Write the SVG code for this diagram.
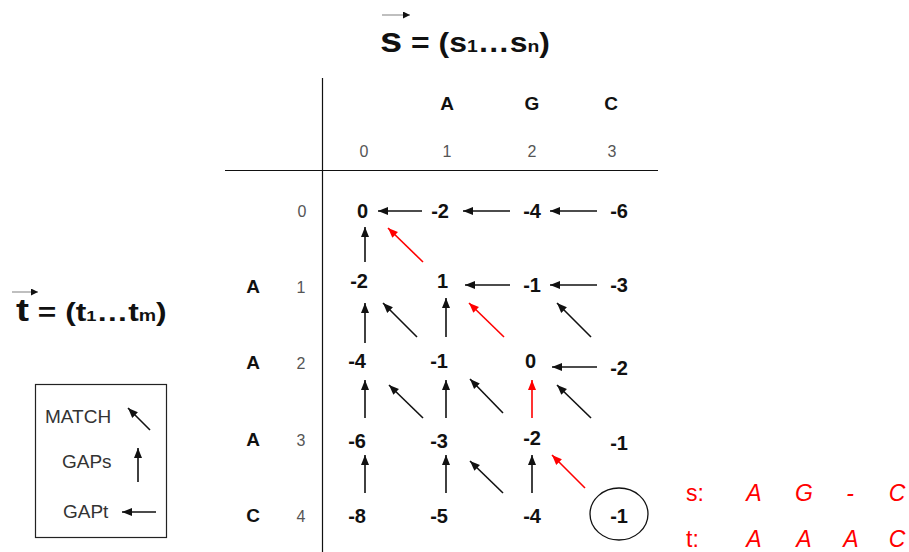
<svg xmlns="http://www.w3.org/2000/svg" width="909" height="552" viewBox="0 0 909 552">
<defs>
<style>
text{font-family:"Liberation Sans",Arial,sans-serif;}
.v{font-size:20px;font-weight:bold;fill:#111;text-anchor:end;}
.h{font-size:19px;font-weight:bold;fill:#111;text-anchor:middle;}
.i{font-size:16px;fill:#555;text-anchor:middle;}
.lg{font-size:19px;fill:#333;}
.al{font-size:23px;fill:#ff0000;}
.ai{font-size:23px;fill:#ff0000;font-style:italic;text-anchor:middle;}
.k{stroke:#111;stroke-width:1.6;fill:none;marker-end:url(#ak);}
.r{stroke:#ff0000;stroke-width:1.6;fill:none;marker-end:url(#ar);}
.tb{font-weight:bold;fill:#111;}
</style>
<marker id="ak" markerUnits="userSpaceOnUse" markerWidth="11" markerHeight="9" refX="10" refY="4.5" orient="auto"><path d="M0,0.5 L10,4.5 L0,8.5 z" fill="#111"/></marker>
<marker id="ar" markerUnits="userSpaceOnUse" markerWidth="11" markerHeight="9" refX="10" refY="4.5" orient="auto"><path d="M0,0.5 L10,4.5 L0,8.5 z" fill="#ff0000"/></marker>
<marker id="as" markerUnits="userSpaceOnUse" markerWidth="8" markerHeight="8" refX="7" refY="3.5" orient="auto"><path d="M0,0 L7,3.5 L0,7 z" fill="#111"/></marker>
</defs>
<rect width="909" height="552" fill="#fff"/>

<g id="title-s">
<line x1="382" y1="15" x2="410" y2="15" stroke="#aaa" stroke-width="1.5" marker-end="url(#as)"/>
<text class="tb" transform="translate(380,52) scale(1.14,1)" x="0" y="0"><tspan font-size="35">s</tspan><tspan font-size="28"> = (s</tspan><tspan font-size="17">1</tspan><tspan font-size="28">…s</tspan><tspan font-size="17">n</tspan><tspan font-size="28">)</tspan></text>
</g>

<g id="title-t">
<line x1="12" y1="292" x2="38" y2="292" stroke="#aaa" stroke-width="1.5" marker-end="url(#as)"/>
<text class="tb" transform="translate(16,321) scale(1.22,1)" x="0" y="0"><tspan font-size="32">t</tspan><tspan font-size="26"> = (t</tspan><tspan font-size="15">1</tspan><tspan font-size="26">…t</tspan><tspan font-size="16">m</tspan><tspan font-size="26">)</tspan></text>
</g>

<g id="grid">
<line x1="322.5" y1="78" x2="322.5" y2="552" stroke="#111" stroke-width="1.2"/>
<line x1="225" y1="170.5" x2="658" y2="170.5" stroke="#111" stroke-width="1.2"/>
</g>

<g id="headers">
<text class="h" x="447" y="110">A</text>
<text class="h" x="532" y="110">G</text>
<text class="h" x="611" y="110">C</text>
<text class="i" x="364" y="157">0</text>
<text class="i" x="447" y="157">1</text>
<text class="i" x="532" y="157">2</text>
<text class="i" x="612" y="157">3</text>
<text class="i" x="302" y="217">0</text>
<text class="h" x="253" y="293">A</text>
<text class="i" x="301" y="293">1</text>
<text class="h" x="253" y="369">A</text>
<text class="i" x="301" y="369">2</text>
<text class="h" x="253" y="446">A</text>
<text class="i" x="301" y="446">3</text>
<text class="h" x="253" y="522">C</text>
<text class="i" x="301" y="522">4</text>
</g>

<g id="cells">
<text class="v" x="368" y="218">0</text>
<text class="v" x="449" y="218">-2</text>
<text class="v" x="541" y="218">-4</text>
<text class="v" x="628" y="218">-6</text>
<text class="v" x="368" y="288">-2</text>
<text class="v" x="448" y="288">1</text>
<text class="v" x="541" y="292">-1</text>
<text class="v" x="628" y="292">-3</text>
<text class="v" x="366" y="368">-4</text>
<text class="v" x="448" y="368">-1</text>
<text class="v" x="536" y="368">0</text>
<text class="v" x="628" y="375">-2</text>
<text class="v" x="366" y="448">-6</text>
<text class="v" x="448" y="448">-3</text>
<text class="v" x="541" y="445">-2</text>
<text class="v" x="628" y="450">-1</text>
<text class="v" x="366" y="523">-8</text>
<text class="v" x="448" y="523">-5</text>
<text class="v" x="541" y="523">-4</text>
<g id="final-cell">
<ellipse cx="619" cy="514" rx="29" ry="26" fill="none" stroke="#111" stroke-width="1.3"/>
<text class="v" x="628" y="523">-1</text>
</g>
</g>

<g id="connectors">
<line class="k" x1="422" y1="211" x2="378" y2="211"/>
<line class="k" x1="510" y1="211" x2="463" y2="211"/>
<line class="k" x1="597" y1="211" x2="550" y2="211"/>
<line class="k" x1="365" y1="262" x2="365" y2="227"/>
<line class="r" x1="423" y1="262" x2="388" y2="228"/>
<line class="k" x1="510" y1="285" x2="465" y2="285"/>
<line class="k" x1="597" y1="285" x2="550" y2="285"/>
<line class="k" x1="365" y1="343" x2="365" y2="303"/>
<line class="k" x1="417" y1="337" x2="383" y2="303"/>
<line class="k" x1="446" y1="337" x2="446" y2="298"/>
<line class="r" x1="504" y1="337" x2="469" y2="303"/>
<line class="k" x1="591" y1="337" x2="557" y2="303"/>
<line class="k" x1="597" y1="367" x2="552" y2="367"/>
<line class="k" x1="365" y1="418" x2="365" y2="380"/>
<line class="k" x1="423" y1="418" x2="389" y2="385"/>
<line class="k" x1="446" y1="418" x2="446" y2="380"/>
<line class="k" x1="503" y1="413" x2="470" y2="379"/>
<line class="r" x1="532" y1="418" x2="532" y2="380"/>
<line class="k" x1="591" y1="418" x2="557" y2="385"/>
<line class="k" x1="365" y1="493" x2="365" y2="455"/>
<line class="k" x1="446" y1="493" x2="446" y2="455"/>
<line class="k" x1="503" y1="493" x2="470" y2="461"/>
<line class="k" x1="532" y1="493" x2="532" y2="455"/>
<line class="r" x1="585" y1="488" x2="552" y2="455"/>
</g>

<g id="legend">
<rect x="35.5" y="384.5" width="131" height="153" fill="none" stroke="#222" stroke-width="1.2"/>
<text class="lg" x="45" y="423">MATCH</text>
<line class="k" x1="150" y1="430" x2="128" y2="408"/>
<text class="lg" x="62" y="468">GAPs</text>
<line class="k" x1="138" y1="482" x2="138" y2="448"/>
<text class="lg" x="63" y="518">GAPt</text>
<line class="k" x1="156" y1="512" x2="122" y2="512"/>
</g>

<g id="alignment">
<text class="al" x="686" y="501">s:</text>
<text class="ai" x="754" y="501">A</text>
<text class="ai" x="804" y="501">G</text>
<text class="ai" x="850" y="501">-</text>
<text class="ai" x="897" y="501">C</text>
<text class="al" x="686" y="547">t:</text>
<text class="ai" x="754" y="547">A</text>
<text class="ai" x="804" y="547">A</text>
<text class="ai" x="851" y="547">A</text>
<text class="ai" x="897" y="547">C</text>
</g>
</svg>
